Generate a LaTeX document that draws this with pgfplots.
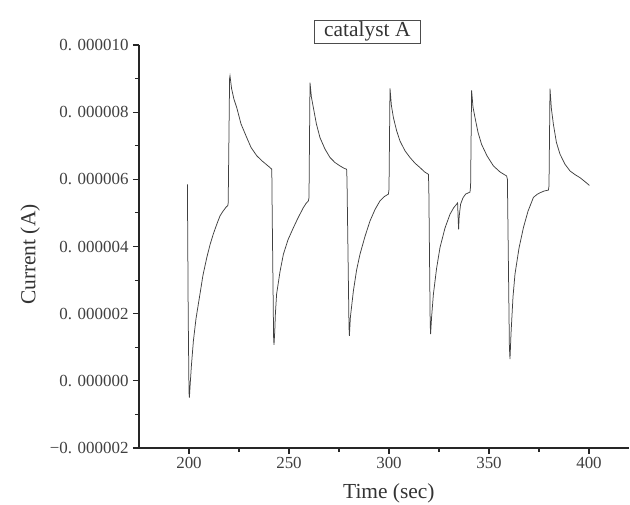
\documentclass[border=0pt]{standalone}
\usepackage{fontspec}
\setmainfont{Liberation Serif}
\usepackage{pgfplots}
\pgfplotsset{compat=1.18}
\begin{document}
\begin{tikzpicture}
\begin{axis}[
  scale only axis,
  width=490bp, height=403bp,
  xmin=175, xmax=420,
  ymin=-2e-6, ymax=1e-5,
  axis x line*=bottom, axis y line*=left,
  axis line style={line width=1.1bp, black!85},
  xtick={200,250,300,350,400},
  xticklabels={200,250,300,350,400},
  ytick={-2e-6,0,2e-6,4e-6,6e-6,8e-6,1e-5},
  yticklabels={−0. 000002,0. 000000,0. 000002,0. 000004,0. 000006,0. 000008,0. 000010},
  scaled y ticks=false, scaled x ticks=false,
  minor x tick num=1, minor y tick num=1,
  tick align=outside,
  major tick length=6bp, minor tick length=4bp,
  every tick/.style={line width=1.1bp, black!85},
  tick label style={font=\fontsize{17}{19}\selectfont, text=black!75},
  yticklabel style={xshift=-1bp},
  label style={font=\fontsize{21.5}{24}\selectfont, text=black!80},
  xlabel={Time (sec)},
  ylabel={Current (A)},
  xlabel style={at={(axis description cs:0.51,-0.113)}, anchor=center},
  ylabel style={at={(axis description cs:-0.222,0.48)}, anchor=center},
  clip=false,
]
\addplot[black!75, line width=0.75bp] coordinates {
(199.2,5.85e-6)(199.6,2.0e-6)(200.0,-0.35e-6)(200.2,-0.50e-6)(200.6,-0.10e-6)(201.2,0.45e-6)
(202.2,1.19e-6)(203.5,1.85e-6)(205.5,2.59e-6)(207.0,3.15e-6)(208.9,3.67e-6)(210.5,4.05e-6)
(212.2,4.38e-6)(214.0,4.68e-6)(215.5,4.91e-6)(217.0,5.05e-6)(218.5,5.17e-6)(219.4,5.22e-6)
(219.6,5.30e-6)(220.3,9.00e-6)(220.5,9.08e-6)(221.3,8.70e-6)(222.5,8.38e-6)(223.9,8.13e-6)
(226.0,7.65e-6)(228.9,7.24e-6)(231.0,6.95e-6)(233.9,6.70e-6)(236.5,6.55e-6)(238.5,6.45e-6)
(240.5,6.35e-6)(241.4,6.30e-6)(241.6,5.00e-6)(242.3,1.30e-6)(242.5,1.07e-6)(242.9,1.50e-6)
(243.2,2.00e-6)(243.8,2.58e-6)(245.5,3.25e-6)(247.2,3.77e-6)(249.5,4.20e-6)(252.2,4.56e-6)
(254.5,4.85e-6)(257.2,5.16e-6)(258.5,5.28e-6)(259.7,5.36e-6)(260.0,5.45e-6)(260.5,8.88e-6)
(261.2,8.45e-6)(262.2,8.13e-6)(263.7,7.65e-6)(265.5,7.24e-6)(268.0,6.90e-6)(270.5,6.65e-6)
(273.0,6.50e-6)(275.5,6.40e-6)(277.5,6.33e-6)(278.8,6.30e-6)(279.0,6.00e-6)(280.0,1.60e-6)
(280.2,1.34e-6)(280.7,1.90e-6)(282.2,2.68e-6)(283.8,3.30e-6)(285.5,3.77e-6)(288.0,4.30e-6)
(290.5,4.76e-6)(293.0,5.10e-6)(295.5,5.36e-6)(297.5,5.48e-6)(299.7,5.56e-6)(300.0,5.70e-6)
(300.5,8.71e-6)(301.2,8.20e-6)(302.2,7.84e-6)(303.8,7.45e-6)(305.5,7.14e-6)(308.0,6.85e-6)
(310.5,6.65e-6)(313.0,6.48e-6)(315.5,6.35e-6)(317.8,6.22e-6)(319.7,6.15e-6)(319.9,5.80e-6)
(320.6,1.70e-6)(320.8,1.39e-6)(321.3,1.90e-6)(322.2,2.58e-6)(323.8,3.35e-6)(325.5,3.97e-6)
(328.0,4.55e-6)(330.5,4.96e-6)(332.3,5.15e-6)(333.8,5.26e-6)(334.3,5.30e-6)(334.6,4.80e-6)
(334.8,4.51e-6)(335.1,4.90e-6)(335.8,5.26e-6)(337.0,5.45e-6)(338.3,5.56e-6)(340.5,5.62e-6)
(340.8,5.80e-6)(341.3,8.65e-6)(342.0,8.15e-6)(343.0,7.84e-6)(344.5,7.40e-6)(346.3,7.04e-6)
(349.0,6.70e-6)(352.2,6.40e-6)(355.5,6.22e-6)(358.8,6.10e-6)(359.2,6.00e-6)(360.2,1.00e-6)
(360.5,0.65e-6)(361.0,1.40e-6)(362.0,2.50e-6)(363.0,3.18e-6)(365.0,3.95e-6)(367.2,4.56e-6)
(369.5,5.05e-6)(372.2,5.46e-6)(374.0,5.55e-6)(375.5,5.60e-6)(377.5,5.65e-6)(379.7,5.68e-6)
(380.0,5.80e-6)(380.5,8.70e-6)(381.2,8.10e-6)(382.2,7.64e-6)(383.7,7.10e-6)(385.5,6.75e-6)
(388.0,6.45e-6)(390.5,6.25e-6)(393.0,6.14e-6)(395.5,6.05e-6)(398.0,5.93e-6)(400.2,5.82e-6)
};
\node[draw=black!70, line width=0.6bp, inner xsep=10bp, inner ysep=0bp, minimum height=23bp,
      font=\fontsize{21.5}{24}\selectfont, text=black!80]
  at (rel axis cs:0.466,1.0335) {catalyst A};
\end{axis}
\pgfresetboundingbox
\path[use as bounding box] (-139bp,-57bp) rectangle (491bp,448bp);
\end{tikzpicture}
\end{document}
